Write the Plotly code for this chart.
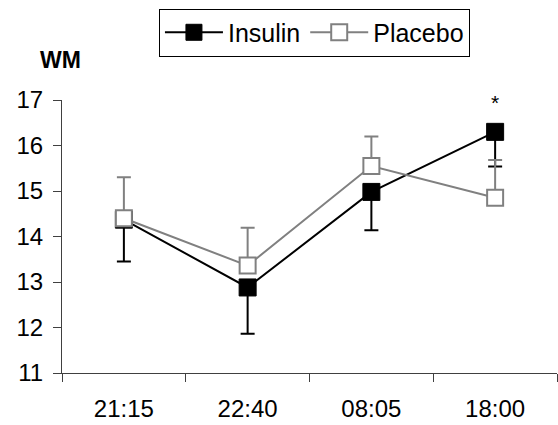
import plotly.graph_objects as go

times = ["21:15", "22:40", "08:05", "18:00"]
insulin = [14.37, 12.88, 14.98, 16.30]
insulin_err = [0.92, 1.02, 0.84, 0.76]
placebo = [14.40, 13.36, 15.55, 14.85]
placebo_err = [0.90, 0.83, 0.65, 0.83]
y_ticks = [11, 12, 13, 14, 15, 16, 17]

FONT = "Liberation Sans, Arial, sans-serif"

fig = go.Figure()
fig.add_trace(go.Scatter(
    x=times, y=insulin, name="Insulin", mode="lines+markers",
    line=dict(color="black", width=2),
    marker=dict(symbol="square", size=17, color="black", line=dict(color="black", width=1)),
    error_y=dict(type="data", symmetric=False, array=[0]*4, arrayminus=insulin_err,
                 color="black", thickness=2, width=7),
    cliponaxis=False,
))
fig.add_trace(go.Scatter(
    x=times, y=placebo, name="Placebo", mode="lines+markers",
    line=dict(color="#808080", width=2),
    marker=dict(symbol="square", size=16, color="white", line=dict(color="#808080", width=2)),
    error_y=dict(type="data", symmetric=False, array=placebo_err, arrayminus=[0]*4,
                 color="#808080", thickness=2, width=7),
    cliponaxis=False,
))

fig.add_annotation(x="18:00", y=0.99, xref="x", yref="paper", text="*", showarrow=False,
                   yanchor="middle", font=dict(family=FONT, size=21, color="black"))
fig.add_annotation(x=-0.0485, y=1.1447, xref="paper", yref="paper", text="<b>WM</b>",
                   showarrow=False, xanchor="left", yanchor="middle",
                   font=dict(family=FONT, size=23, color="black"))

fig.update_layout(
    width=558, height=425,
    margin=dict(l=62, r=1, t=100, b=52),
    paper_bgcolor="white", plot_bgcolor="white",
    font=dict(family=FONT, size=24, color="black"),
    showlegend=True,
    legend=dict(orientation="h", x=0.51, xanchor="center", y=1.335, yanchor="top",
                bordercolor="black", borderwidth=1, font=dict(size=25),
                itemwidth=58, bgcolor="white"),
    xaxis=dict(type="category", range=[-0.5, 3.5], showline=True, linecolor="#404040",
               linewidth=1, ticks="outside", tickson="boundaries", ticklen=8,
               tickcolor="#404040", showgrid=False, zeroline=False,
               ticklabelstandoff=14, tickfont=dict(size=24)),
    yaxis=dict(range=[11, 17], tickvals=y_ticks, showline=True, linecolor="#404040",
               linewidth=1, ticks="outside", ticklen=8, tickcolor="#404040",
               showgrid=False, zeroline=False, ticklabelstandoff=5,
               tickfont=dict(size=24)),
)

fig.write_html("out.html")
